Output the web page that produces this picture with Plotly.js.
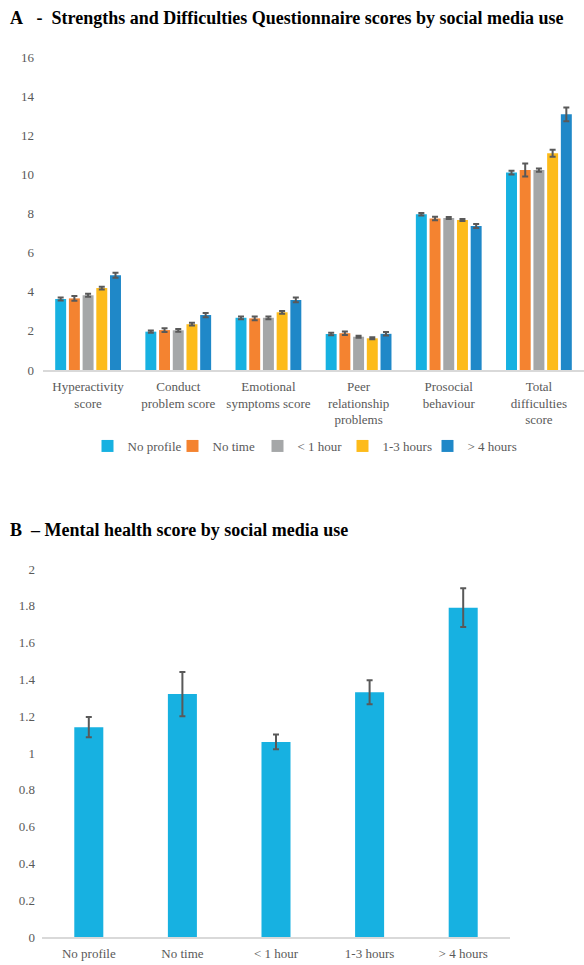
<!DOCTYPE html>
<html>
<head>
<meta charset="utf-8">
<script src="https://cdn.plot.ly/plotly-3.0.1.min.js"></script>
<style>
html,body{margin:0;padding:0;background:#fff;}
#chart{width:584px;height:965px;}
#chart .legend .scrollbox{clip-path:none !important;}
</style>
</head>
<body>
<div id="chart"></div>
<script>
// ---- Data: panel A ----
const sdqCategories = ["Hyperactivity<br>score", "Conduct<br>problem score", "Emotional<br>symptoms score", "Peer<br>relationship<br>problems", "Prosocial<br>behaviour", "Total<br>difficulties<br>score"];
const groupNames = ["No profile", "No time", "< 1 hour", "1-3 hours", "> 4 hours"];
const sdqNoProfile = [3.63, 1.96, 2.67, 1.84, 7.96, 10.09];
const sdqNoTime    = [3.66, 2.04, 2.64, 1.88, 7.74, 10.22];
const sdqLess1     = [3.82, 2.03, 2.67, 1.70, 7.77, 10.22];
const sdq1to3      = [4.19, 2.34, 2.95, 1.62, 7.67, 11.08];
const sdqMore4     = [4.84, 2.81, 3.58, 1.85, 7.36, 13.07];
const errNoProfile = [0.08, 0.06, 0.07, 0.06, 0.06, 0.09];
const errNoTime    = [0.12, 0.10, 0.10, 0.09, 0.09, 0.33];
const errLess1     = [0.08, 0.07, 0.07, 0.05, 0.05, 0.08];
const err1to3      = [0.07, 0.07, 0.07, 0.05, 0.05, 0.18];
const errMore4     = [0.13, 0.11, 0.12, 0.09, 0.10, 0.35];

// ---- Data: panel B ----
const mhCategories = ["No profile", "No time", "< 1 hour", "1-3 hours", "> 4 hours"];
const mhScores = [1.14, 1.32, 1.06, 1.33, 1.79];
const mhErrors = [0.055, 0.12, 0.04, 0.065, 0.105];

const colors = ["#17B1E1", "#F48330", "#A5A7A8", "#FDBB1A", "#1F88C8"];
const seriesA = [sdqNoProfile, sdqNoTime, sdqLess1, sdq1to3, sdqMore4];
const errorsA = [errNoProfile, errNoTime, errLess1, err1to3, errMore4];

const W = 584, H = 965;
const px = v => v / W;
const py = v => 1 - v / H;

const serif = "Liberation Serif";
const gray = "#595959";

const traces = [];
seriesA.forEach((vals, i) => {
  traces.push({
    type: "bar",
    name: groupNames[i],
    x: sdqCategories,
    y: vals,
    xaxis: "x", yaxis: "y",
    marker: {color: colors[i]},
    error_y: {type: "data", array: errorsA[i], visible: true, color: gray, thickness: 2, width: 3},
    hoverinfo: "y"
  });
});
traces.push({
  type: "bar",
  name: "Mental health",
  x: mhCategories,
  y: mhScores,
  xaxis: "x2", yaxis: "y2",
  width: mhCategories.map(() => 0.31),
  marker: {color: colors[0]},
  error_y: {type: "data", array: mhErrors, visible: true, color: gray, thickness: 2, width: 3},
  showlegend: false,
  hoverinfo: "y"
});

const axisFont = {family: serif, size: 13, color: gray};

const layout = {
  width: W, height: H,
  margin: {l: 0, r: 0, t: 0, b: 0},
  paper_bgcolor: "#fff",
  plot_bgcolor: "#fff",
  barmode: "group",
  bargap: 0.24,
  bargroupgap: 0.2,
  showlegend: true,
  legend: {
    orientation: "h",
    x: px(300), xanchor: "center",
    y: py(446), yanchor: "middle",
    font: {family: serif, size: 13, color: gray},
    itemwidth: 30,
    entrywidth: 40,
    traceorder: "normal"
  },
  xaxis: {
    domain: [px(43), 1],
    anchor: "y",
    showline: true, linecolor: "#D9D9D9", linewidth: 2,
    showgrid: false, ticks: "",
    tickfont: axisFont,
    ticklabelstandoff: 3,
    fixedrange: true
  },
  yaxis: {
    domain: [py(370), py(57)],
    anchor: "x",
    range: [0, 16], dtick: 2,
    showline: false, showgrid: false, zeroline: false, ticks: "",
    tickfont: axisFont,
    ticklabelstandoff: 8,
    fixedrange: true
  },
  xaxis2: {
    domain: [px(42), px(510)],
    anchor: "y2",
    showline: true, linecolor: "#D9D9D9", linewidth: 2,
    showgrid: false, ticks: "",
    tickfont: axisFont,
    ticklabelstandoff: 3,
    fixedrange: true
  },
  yaxis2: {
    domain: [py(937), py(569)],
    anchor: "x2",
    range: [0, 2], dtick: 0.2,
    showline: false, showgrid: false, zeroline: false, ticks: "",
    tickfont: axisFont,
    ticklabelstandoff: 6,
    fixedrange: true
  },
  annotations: [
    {
      text: "<b>A\u00a0\u00a0\u00a0-\u00a0\u00a0Strengths and Difficulties Questionnaire scores by social media use</b>",
      xref: "paper", yref: "paper",
      x: px(8), y: py(18), xanchor: "left", yanchor: "middle",
      showarrow: false,
      font: {family: serif, size: 18, color: "#000"}
    },
    {
      text: "<b>B\u00a0\u00a0\u2013\u00a0Mental health score by social media use</b>",
      xref: "paper", yref: "paper",
      x: px(8), y: py(530), xanchor: "left", yanchor: "middle",
      showarrow: false,
      font: {family: serif, size: 18, color: "#000"}
    }
  ]
};

Plotly.newPlot("chart", traces, layout, {displayModeBar: false, staticPlot: true});
</script>
</body>
</html>
